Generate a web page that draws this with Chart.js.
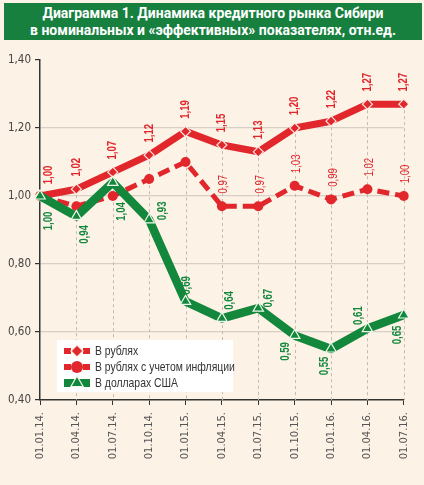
<!DOCTYPE html>
<html>
<head>
<meta charset="utf-8">
<script src="https://cdn.jsdelivr.net/npm/chart.js@4"></script>
<style>
  html, body { margin: 0; padding: 0; background: #fcf2e6; }
  #wrap { position: relative; width: 424px; height: 485px; overflow: hidden; }
  #title {
    position: absolute; left: 4px; top: 3px; width: 418px; height: 37px;
    background: #18803f; color: #fff; text-align: center;
    font: bold 14px Roboto, 'Liberation Sans', sans-serif; line-height: 17px;
    padding-top: 2px; box-sizing: border-box;
  }
  canvas { position: absolute; left: 0; top: 0; }
</style>
</head>
<body>
<div id="wrap">
  <canvas id="chart" width="424" height="485"></canvas>
  <div id="title">Диаграмма 1. Динамика кредитного рынка Сибири<br>в номинальных и «эффективных» показателях, отн.ед.</div>
</div>
<script>
// данные диаграммы
const dates = ['01.01.14.', '01.04.14.', '01.07.14.', '01.10.14.', '01.01.15.', '01.04.15.',
               '01.07.15.', '01.10.15.', '01.01.16.', '01.04.16.', '01.07.16.'];
const rubles     = [1.00, 1.02, 1.07, 1.12, 1.19, 1.15, 1.13, 1.20, 1.22, 1.27, 1.27];
const rublesReal = [1.00, 0.97, 1.00, 1.05, 1.10, 0.97, 0.97, 1.03, 0.99, 1.02, 1.00];
const dollars    = [1.00, 0.94, 1.04, 0.93, 0.69, 0.64, 0.67, 0.59, 0.55, 0.61, 0.65];
const seriesNames = ['В рублях', 'В рублях с учетом инфляции', 'В долларах США'];

const RED = '#e1262c';
const GREEN = '#13883d';
const SANS = "'Liberation Sans', Arial, sans-serif";
const COND = "'DejaVu Sans Condensed', 'Liberation Sans', sans-serif";

// смещения подписей (центр текста относительно точки)
const rublesLabelPos = dates.map((d, i) => i === 0 ? [8, -21] : [0, -22]);
const realLabelPos = dates.map((d, i) => i < 5 ? null : [2, -22]);
const dollarLabelPos = [[8, 25], [8, 18], [9, 29], [13, -9], [1, -16], [8, -18],
                        [10, -10], [-9, 16], [-7, 17], [-9, -13], [-6, 20]];

const fmt = v => v.toFixed(2).replace('.', ',');

// узкий текст: обычный шрифт, сжатый по горизонтали
function narrowText(ctx, text, x, y, opts) {
  ctx.save();
  ctx.translate(x, y);
  if (opts.rotate) ctx.rotate(opts.rotate);
  ctx.scale(opts.sx || 0.8, 1);
  ctx.font = opts.font;
  ctx.fillStyle = opts.color;
  ctx.textAlign = opts.align || 'center';
  ctx.textBaseline = 'middle';
  ctx.fillText(text, 0, 0);
  ctx.restore();
}

// вертикальные пунктиры от верхней линии вниз
const dropLines = {
  id: 'dropLines',
  beforeDatasetsDraw(chart) {
    const ctx = chart.ctx;
    const meta = chart.getDatasetMeta(0);
    const bottom = chart.chartArea.bottom;
    ctx.save();
    ctx.strokeStyle = '#c4bab0';
    ctx.lineWidth = 1;
    ctx.setLineDash([3, 3]);
    meta.data.forEach((pt, i) => {
      if (i === 0) return;
      ctx.beginPath();
      ctx.moveTo(Math.round(pt.x) + 0.5, pt.y);
      ctx.lineTo(Math.round(pt.x) + 0.5, bottom);
      ctx.stroke();
    });
    ctx.restore();
  }
};

// подписи значений, повернутые на 90°
const valueLabels = {
  id: 'valueLabels',
  afterDatasetsDraw(chart) {
    const ctx = chart.ctx;
    const cfgs = [
      { pos: rublesLabelPos, color: RED, weight: 'bold ' },
      { pos: realLabelPos, color: RED, weight: '' },
      { pos: dollarLabelPos, color: GREEN, weight: 'bold ' }
    ];
    cfgs.forEach((c, di) => {
      const meta = chart.getDatasetMeta(di);
      const values = chart.data.datasets[di].data;
      meta.data.forEach((pt, i) => {
        const p = c.pos[i];
        if (!p) return;
        narrowText(ctx, fmt(values[i]), pt.x + p[0], pt.y + p[1], {
          rotate: -Math.PI / 2, sx: 0.74, font: c.weight + '13px ' + SANS, color: c.color
        });
      });
    });
  }
};

// легенда в белой рамке
const boxLegend = {
  id: 'boxLegend',
  afterDraw(chart) {
    const ctx = chart.ctx;
    const x0 = 57, y0 = 340;
    ctx.save();
    ctx.fillStyle = '#ffffff';
    ctx.fillRect(x0, y0, 176, 52);
    chart.data.datasets.forEach((ds, i) => {
      const y = y0 + 11 + i * 16;
      const cx = x0 + 20;
      ctx.fillStyle = ds.borderColor;
      if (i === 2) {
        ctx.fillRect(x0 + 7, y - 4, 26, 8);
      } else {
        ctx.fillRect(x0 + 7, y - 3, 7, 6);
        ctx.fillRect(x0 + 26, y - 3, 7, 6);
      }
      ctx.fillStyle = ds.pointBackgroundColor;
      ctx.strokeStyle = ds.pointBorderColor;
      ctx.lineWidth = ds.pointBorderWidth;
      Chart.helpers.drawPoint(ctx, {
        pointStyle: ds.pointStyle,
        radius: i === 1 ? 6 : ds.pointRadius + 1,
        borderWidth: ds.pointBorderWidth
      }, cx, y);
      narrowText(ctx, seriesNames[i], x0 + 38, y + 0.5, {
        sx: 0.8, font: '13px ' + SANS, color: '#333', align: 'left'
      });
    });
    ctx.restore();
  }
};

new Chart(document.getElementById('chart').getContext('2d'), {
  type: 'line',
  data: {
    labels: dates,
    datasets: [{
      label: seriesNames[0],
      data: rubles,
      borderColor: RED,
      borderWidth: 7,
      pointStyle: 'rectRot',
      pointRadius: 5,
      pointBackgroundColor: RED,
      pointBorderColor: '#ffe6e0',
      pointBorderWidth: 1.2,
      order: 1
    }, {
      label: seriesNames[1],
      data: rublesReal,
      borderColor: RED,
      borderWidth: 5,
      borderDash: [12, 6],
      pointStyle: 'circle',
      pointRadius: 5,
      pointBackgroundColor: RED,
      pointBorderColor: RED,
      pointBorderWidth: 0,
      order: 2
    }, {
      label: seriesNames[2],
      data: dollars,
      borderColor: GREEN,
      borderWidth: 8.5,
      pointStyle: 'triangle',
      pointRadius: 6,
      pointBackgroundColor: GREEN,
      pointBorderColor: '#eef8ea',
      pointBorderWidth: 1.2,
      order: 0
    }]
  },
  options: {
    responsive: false,
    animation: false,
    layout: { padding: { top: 60, right: 19, left: 0, bottom: 0 } },
    plugins: { legend: { display: false }, tooltip: { enabled: false } },
    elements: { line: { tension: 0, borderJoinStyle: 'round' } },
    scales: {
      x: {
        offset: false,
        afterFit: s => { s.height = 85; },
        border: { color: '#333', width: 1.5 },
        grid: { drawOnChartArea: false, color: '#333', tickColor: '#333', tickLength: 5 },
        ticks: {
          minRotation: 90, maxRotation: 90, autoSkip: false, padding: 7,
          color: '#555', font: { size: 11, family: COND }
        }
      },
      y: {
        min: 0.4, max: 1.4,
        afterFit: s => { s.width = 40; },
        border: { color: '#333', width: 1.5 },
        grid: {
          color: c => (Math.abs(c.tick.value - 1.4) < 1e-6 || Math.abs(c.tick.value - 0.4) < 1e-6) ? 'rgba(0,0,0,0)' : '#d8d0c6',
          tickColor: '#333', tickLength: 5, lineWidth: 1.2
        },
        ticks: {
          stepSize: 0.2, padding: 4, color: '#444',
          font: { size: 11.5, family: COND },
          callback: v => fmt(v)
        }
      }
    }
  },
  plugins: [dropLines, valueLabels, boxLegend]
});
</script>
</body>
</html>
